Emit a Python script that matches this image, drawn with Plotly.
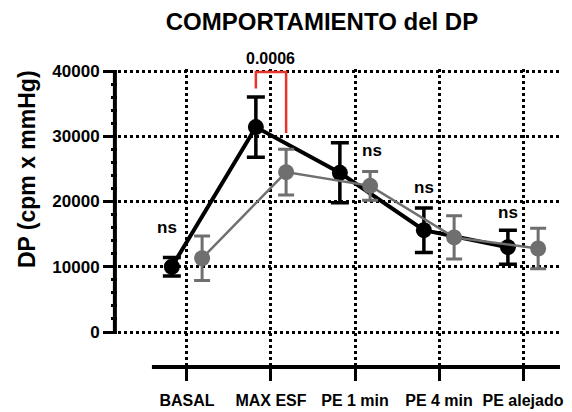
import plotly.graph_objects as go

# ---- data ----
categories = ["BASAL", "MAX ESF", "PE 1 min", "PE 4 min", "PE alejado"]
black_mean = [10000, 31400, 24400, 15600, 13000]
black_err = [1400, 4600, 4600, 3400, 2600]
gray_mean = [11300, 24500, 22400, 14500, 12800]
gray_err = [3400, 3500, 2200, 3300, 3100]
y_ticks = [0, 10000, 20000, 30000, 40000]
ns_labels = ["ns", "ns", "ns", "ns"]
p_label = "0.0006"

# ---- style ----
FONT = "Liberation Sans, Arial, sans-serif"
BLACK = "#000000"
GRAY = "#6f6f6f"
RED = "#e8332a"
OFF = 0.18
Y_RANGE = [-5364, 40306]

idx = list(range(len(categories)))
xb = [i - OFF for i in idx]
xg = [i + OFF for i in idx]

fig = go.Figure()
fig.add_trace(go.Scatter(
    x=xb, y=black_mean, mode="lines+markers",
    line=dict(color=BLACK, width=4),
    marker=dict(color=BLACK, size=16),
    error_y=dict(type="data", array=black_err, color=BLACK, thickness=3.5, width=9),
    cliponaxis=False, showlegend=False))
fig.add_trace(go.Scatter(
    x=xg, y=gray_mean, mode="lines+markers",
    line=dict(color=GRAY, width=2.5),
    marker=dict(color=GRAY, size=16),
    error_y=dict(type="data", array=gray_err, color=GRAY, thickness=3, width=8),
    cliponaxis=False, showlegend=False))

minor_vals = [v for v in range(2000, 40000, 2000) if v % 10000 != 0]

fig.update_layout(
    width=564, height=404,
    margin=dict(l=110, r=10, t=61, b=45, autoexpand=False),
    plot_bgcolor="white", paper_bgcolor="white",
    font=dict(family=FONT, color=BLACK),
    xaxis=dict(
        range=[-0.821, 4.464], tickmode="array", tickvals=idx, ticktext=categories,
        showline=False, zeroline=False, automargin=False,
        showgrid=True, gridcolor=BLACK, griddash="dot", gridwidth=2.5,
        ticks="outside", ticklen=13, tickwidth=3, tickcolor=BLACK,
        ticklabelstandoff=6,
        tickfont=dict(family=FONT, size=16, color=BLACK, weight="bold"),
    ),
    yaxis=dict(
        range=Y_RANGE, tickmode="array", tickvals=y_ticks,
        ticktext=[str(v) for v in y_ticks],
        showline=False, zeroline=False, automargin=False,
        showgrid=True, gridcolor=BLACK, griddash="dot", gridwidth=2.5,
        ticks="outside", ticklen=14, tickwidth=3, tickcolor=BLACK,
        tickfont=dict(family=FONT, size=17, color=BLACK, weight="bold"),
        minor=dict(tickmode="array", tickvals=minor_vals, ticks="outside",
                   ticklen=6, tickwidth=3, tickcolor=BLACK, showgrid=False),
    ),
    title=dict(text="<b>COMPORTAMIENTO del DP</b>", xref="container", yref="container",
               x=0.5567, y=0.966, xanchor="center", yanchor="middle",
               font=dict(family=FONT, size=24, color=BLACK)),
)

# axis lines (y axis from 0 to 40000, x axis offset below)
fig.add_shape(type="line", xref="paper", yref="y", x0=-0.007, x1=-0.007,
              y0=y_ticks[0], y1=y_ticks[-1], line=dict(color=BLACK, width=4))
fig.add_shape(type="line", xref="x", yref="paper", x0=-0.417, x1=4.44,
              y0=0, y1=0, line=dict(color=BLACK, width=4))

# significance bracket
fig.add_shape(type="path", xref="x", yref="y",
              path=f"M {xb[1]},37300 L {xb[1]},39850 L {xg[1]},39850 L {xg[1]},30500",
              line=dict(color=RED, width=2.5))
p_y = 41840
fig.add_annotation(x=1.0, y=(p_y - Y_RANGE[0]) / (Y_RANGE[1] - Y_RANGE[0]),
                   xref="x", yref="paper", xanchor="center", yanchor="middle",
                   text=f"<b>{p_label}</b>",
                   showarrow=False, font=dict(family=FONT, size=16, color=BLACK))

# ns labels
ns_x = [-0.24, 2.2, 2.82, 3.82]
ns_y = [15940, 27890, 22070, 18390]
for x, y, t in zip(ns_x, ns_y, ns_labels):
    fig.add_annotation(x=x, y=y, xref="x", yref="y", text=f"<b>{t}</b>",
                       xanchor="center", yanchor="middle",
                       showarrow=False, font=dict(family=FONT, size=17, color=BLACK))

# y-axis title
fig.add_annotation(x=-0.205, y=0.664, xref="paper", yref="paper",
                   xanchor="center", yanchor="middle",
                   text="<b>DP (cpm x mmHg)</b>", textangle=-90, showarrow=False,
                   font=dict(family=FONT, size=23, color=BLACK))

fig.write_html("out.html")
